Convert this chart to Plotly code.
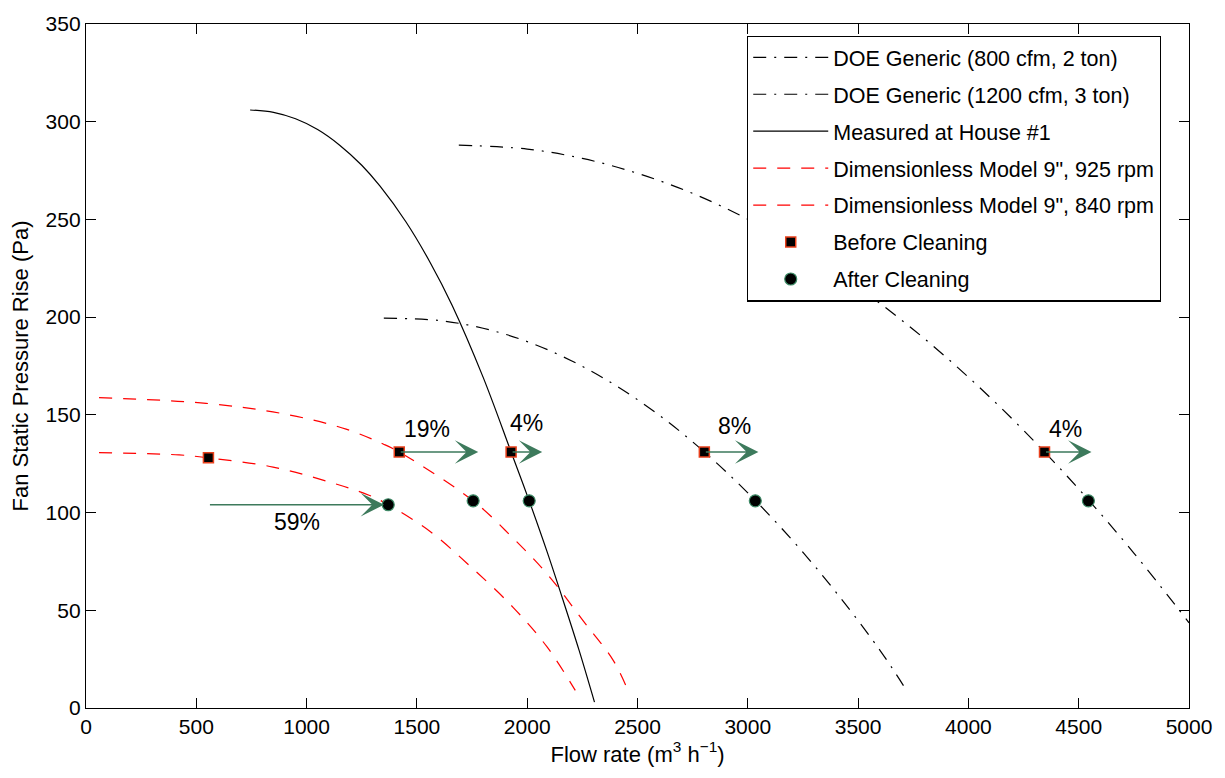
import plotly.graph_objects as go

# Fan curves: flow rate (m3/h) vs fan static pressure rise (Pa)
doe_800_x = [1690, 2000, 2250, 2500, 2750, 3000, 3250, 3500, 3750, 4000, 4250, 4500, 4750, 5000]
doe_800_y = [288, 286, 281.2, 273.6, 263.3, 250.1, 234.1, 215.3, 193.7, 169.3, 142.1, 112.1, 79.3, 43.6]

doe_1200_x = [1350, 1600, 1800, 2000, 2200, 2400, 2600, 2800, 3000, 3200, 3400, 3600, 3714]
doe_1200_y = [199.5, 198.3, 194.3, 187.5, 177.7, 165.1, 149.7, 131.3, 110.1, 86.1, 59.2, 29.4, 10]

house1_x = [744, 850, 950, 1050, 1150, 1250, 1333, 1450, 1560, 1660, 1800, 1927, 2009, 2090, 2163, 2235, 2305]
house1_y = [306, 304.8, 301.5, 296, 288, 277.7, 267, 248.8, 228, 206, 169.3, 131, 106, 80, 55, 29.6, 3]

dm925_x = [59, 544, 907, 1179, 1347, 1420, 1755, 1937, 2091, 2254, 2390, 2453]
dm925_y = [158.8, 155.9, 150.3, 142.7, 135.1, 131, 106, 86.8, 68.5, 44.6, 24.4, 10]

dm840_x = [59, 422, 555, 848, 1102, 1283, 1370, 1560, 1741, 1937, 2091, 2218]
dm840_y = [130.7, 129.5, 128, 123.3, 115.7, 108.9, 104, 90.3, 72.6, 51.4, 31.1, 9]

# Operating points
before_x = [555, 1420, 1927, 2803, 4345]
before_y = [128, 131, 131, 131, 131]
after_x = [1370, 1755, 2009, 3034, 4544]
after_y = [104, 106, 106, 106, 106]

# Flow-increase arrows and labels
arrow_tail_x = [555, 1420, 1927, 2803, 4345]
arrow_tip_x = [1351, 1778, 2068, 3048, 4558]
arrow_y = [104, 131, 131, 131, 131]
label_text = ["59%", "19%", "4%", "8%", "4%"]
label_x = [955, 1545, 1999, 2939, 4440]
label_y = [95, 143, 146, 144.5, 143]

x_ticks = [0, 500, 1000, 1500, 2000, 2500, 3000, 3500, 4000, 4500, 5000]
y_ticks = [0, 50, 100, 150, 200, 250, 300, 350]

FONT = "Liberation Sans, Arial, sans-serif"
ARROW_COLOR = "#3d7a5c"
DOE_DASH = "13px,8px,2px,8px"
RED_DASH = "13px,11px"

fig = go.Figure()

fig.add_trace(go.Scatter(x=doe_800_x, y=doe_800_y, mode="lines", name="DOE Generic (800 cfm, 2 ton)",
                         legendgroup="a", line=dict(color="black", width=1.2, dash=DOE_DASH, shape="spline")))
fig.add_trace(go.Scatter(x=doe_1200_x, y=doe_1200_y, mode="lines", name="DOE Generic (1200 cfm, 3 ton)",
                         legendgroup="b", line=dict(color="black", width=1.2, dash=DOE_DASH, shape="spline")))
fig.add_trace(go.Scatter(x=house1_x, y=house1_y, mode="lines", name="Measured at House #1",
                         legendgroup="c", line=dict(color="black", width=1.2, shape="spline")))
fig.add_trace(go.Scatter(x=dm925_x, y=dm925_y, mode="lines", name="Dimensionless Model 9\", 925 rpm",
                         legendgroup="d", line=dict(color="#ff0000", width=1.2, dash=RED_DASH, shape="spline")))
fig.add_trace(go.Scatter(x=dm840_x, y=dm840_y, mode="lines", name="Dimensionless Model 9\", 840 rpm",
                         legendgroup="e", line=dict(color="#ff0000", width=1.2, dash=RED_DASH, shape="spline")))
fig.add_trace(go.Scatter(x=before_x, y=before_y, mode="markers", name="Before Cleaning", legendgroup="f",
                         marker=dict(symbol="square", size=10, color="black",
                                     line=dict(color="#e8401c", width=1.5))))
fig.add_trace(go.Scatter(x=after_x, y=after_y, mode="markers", name="After Cleaning", legendgroup="g",
                         marker=dict(symbol="circle", size=12, color="black",
                                     line=dict(color="#3d8a66", width=1.2))))

for tx, hx, ay in zip(arrow_tail_x, arrow_tip_x, arrow_y):
    fig.add_annotation(x=hx, y=ay, ax=tx, ay=ay, xref="x", yref="y", axref="x", ayref="y",
                       text="", showarrow=True, arrowhead=3, arrowsize=2.6, arrowwidth=1.5,
                       arrowcolor=ARROW_COLOR, standoff=0, startstandoff=0)

for t, lx, ly in zip(label_text, label_x, label_y):
    fig.add_annotation(x=lx, y=ly, xref="x", yref="y", text=t, showarrow=False,
                       font=dict(family=FONT, size=23, color="black"))

axis_common = dict(showgrid=False, zeroline=False, showline=True, linecolor="black", linewidth=1.3,
                   mirror="allticks", ticks="inside", ticklen=10, tickwidth=1.1, tickcolor="black",
                   tickfont=dict(family=FONT, size=21, color="black"))

fig.update_xaxes(range=[0, 5000], tickvals=x_ticks, ticktext=[str(v) for v in x_ticks],
                 title=dict(text="Flow rate (m<sup>3</sup> h<sup>\u22121</sup>)",
                            font=dict(family=FONT, size=22, color="black"), standoff=6),
                 **axis_common)
fig.update_yaxes(range=[0, 350], tickvals=y_ticks, ticktext=[str(v) for v in y_ticks],
                 title=dict(text="Fan Static Pressure Rise (Pa)",
                            font=dict(family=FONT, size=22, color="black"), standoff=10),
                 **axis_common)

fig.update_layout(
    width=1225, height=778,
    margin=dict(l=86, r=36, t=18, b=70),
    plot_bgcolor="white", paper_bgcolor="white",
    font=dict(family=FONT, color="black"),
    legend=dict(x=0.5993, y=0.983, xanchor="left", yanchor="top",
                bgcolor="white", bordercolor="black", borderwidth=1.2,
                font=dict(family=FONT, size=21.5, color="black"),
                traceorder="grouped", tracegroupgap=6, itemwidth=75),
)

fig.write_html("out.html")
